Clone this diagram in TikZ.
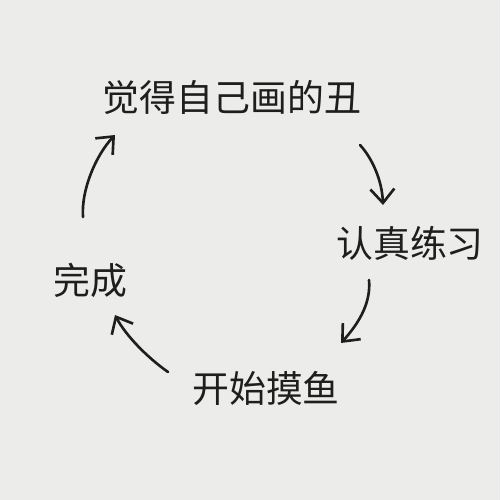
\documentclass[tikz,border=0pt]{standalone}
\usepackage{fontspec}
\newfontfamily\cjk{Noto Sans CJK SC}
\usetikzlibrary{arrows.meta}
\definecolor{PaperGray}{RGB}{236,236,234}
\definecolor{InkBlack}{RGB}{30,30,30}

\begin{document}
\begin{tikzpicture}[x=0.02cm, y=-0.02cm]
    \tikzset{
        steplabel/.style={inner sep=0pt, text=InkBlack,
            font=\cjk\fontsize{21}{25}\selectfont},
        loopstream/.style={draw=InkBlack, line width=1.5pt, line cap=round,
            -{Straight Barb[length=2.8mm, width=4.8mm, line width=1.5pt]}}
    }
    \fill[PaperGray] (0,0) rectangle (500,500);
    \useasboundingbox (0,0) rectangle (500,500);
    \node[steplabel] (feel) at (232,97) {觉得自己画的丑};
    \node[steplabel] (practice) at (410,243) {认真练习};
    \node[steplabel] (slack) at (266,388) {开始摸鱼};
    \node[steplabel] (done) at (90,280) {完成};
    % arrow ends between the steps
    \coordinate (feelout) at (360,145);
    \coordinate (practicein) at (383,205);
    \coordinate (practiceout) at (369,280);
    \coordinate (slackin) at (341,343);
    \coordinate (slackout) at (168,372);
    \coordinate (donein) at (115,315);
    \coordinate (doneout) at (83,217);
    \coordinate (feelin) at (115,135);
    \draw[loopstream] (feelout) .. controls (372,158) and (382,180) .. (practicein);
    \draw[loopstream] (practiceout) .. controls (371,302) and (360,322) .. (slackin);
    \draw[loopstream] (slackout) .. controls (148,358) and (126,336) .. (donein);
    \draw[loopstream] (doneout) .. controls (81,190) and (96,155) .. (feelin);
\end{tikzpicture}
\end{document}
